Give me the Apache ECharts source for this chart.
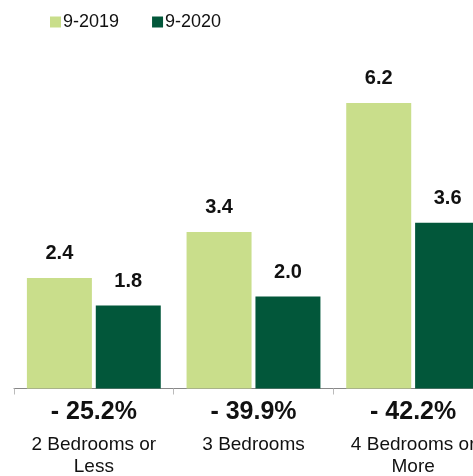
<!DOCTYPE html>
<html>
<head>
<meta charset="utf-8">
<script src="https://cdn.jsdelivr.net/npm/echarts@6/dist/echarts.min.js"></script>
<style>
html,body{margin:0;padding:0;overflow:hidden;background:#fff;}
#chart{width:493px;height:476px;}
</style>
</head>
<body>
<div id="chart"></div>
<script>
const categories = ["2 Bedrooms or\nLess", "3 Bedrooms", "4 Bedrooms or\nMore"];
const changes = ["- 25.2%", "- 39.9%", "- 42.2%"];
const seriesNames = ["9-2019", "9-2020"];
const values2019 = [2.4, 3.4, 6.2];
const values2020 = [1.8, 2.0, 3.6];

const FONT = '"Liberation Sans", Arial, Helvetica, sans-serif';
const chart = echarts.init(document.getElementById('chart'), null, {renderer: 'canvas'});

const labelCfg = {
  show: true,
  position: 'top',
  distance: 14,
  color: '#111',
  fontFamily: FONT,
  fontWeight: 'bold',
  fontSize: 20,
  formatter: p => p.value.toFixed(1)
};

chart.setOption({
  animation: false,
  textStyle: {fontFamily: FONT},
  legend: {
    left: 45,
    top: 8,
    itemWidth: 11,
    itemHeight: 11,
    itemGap: 33,
    icon: 'rect',
    textStyle: {fontSize: 18, color: '#111', fontFamily: FONT, padding: [0, 0, 0, -3]},
    data: seriesNames
  },
  grid: {left: 14, right: 0, top: 20, bottom: 87},
  xAxis: {
    type: 'category',
    data: categories,
    axisLine: {lineStyle: {color: '#888', width: 1}},
    axisTick: {show: true, length: 6, lineStyle: {color: '#bbb'}},
    axisLabel: {
      margin: 3,
      interval: 0,
      formatter: (v, i) => {
        const lines = v.split('\n').map(s => '{c|' + s + '}').join('\n');
        return '{p|' + changes[i] + '}\n' + lines;
      },
      rich: {
        p: {fontSize: 25, fontWeight: 'bold', color: '#111', lineHeight: 42, fontFamily: FONT},
        c: {fontSize: 19, color: '#111', lineHeight: 22, fontFamily: FONT}
      }
    }
  },
  yAxis: {
    type: 'value',
    min: 0,
    max: 8,
    show: false,
    splitLine: {show: false}
  },
  series: [
    {
      name: seriesNames[0],
      type: 'bar',
      data: values2019,
      barWidth: '40.7%',
      barGap: '6%',
      itemStyle: {color: '#C9DE8B'},
      label: labelCfg
    },
    {
      name: seriesNames[1],
      type: 'bar',
      data: values2020,
      barWidth: '40.7%',
      barGap: '6%',
      itemStyle: {color: '#02573A'},
      label: labelCfg
    }
  ]
});
</script>
</body>
</html>
